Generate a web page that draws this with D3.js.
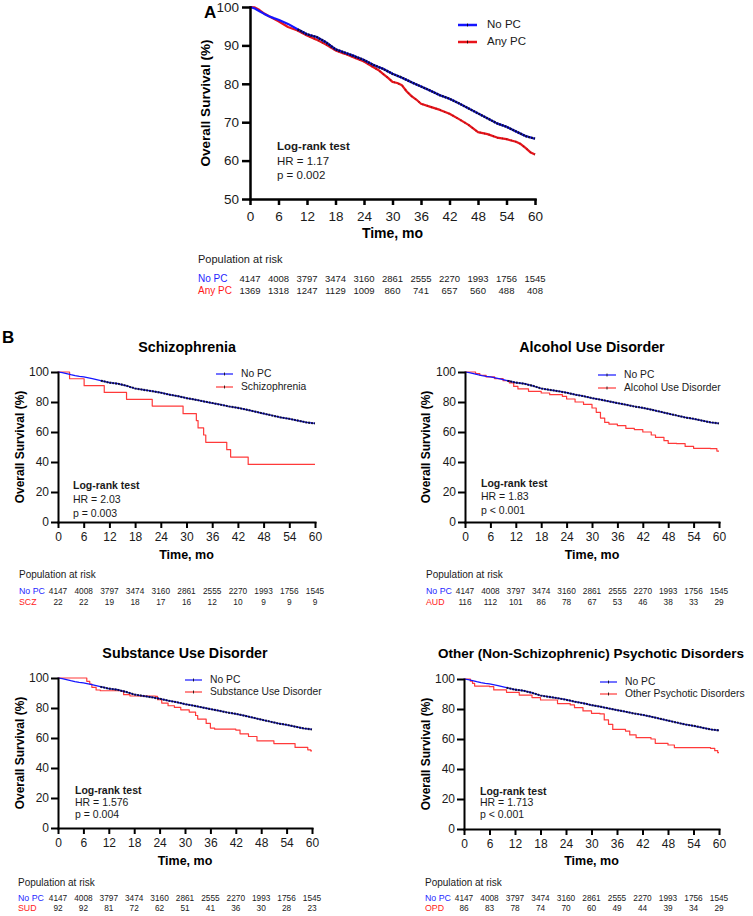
<!DOCTYPE html>
<html><head><meta charset="utf-8">
<script src="https://cdn.jsdelivr.net/npm/d3@7"></script>
<style>
body{margin:0;background:#fff}
svg{font-family:"Liberation Sans",Arial,Helvetica,sans-serif}
</style>
</head><body>
<svg id="c" width="753" height="916"></svg>
<script>
// ---------- DATA ----------
const months = [0, 6, 12, 18, 24, 30, 36, 42, 48, 54, 60];
const yTicksA = [50, 60, 70, 80, 90, 100];
const yTicksB = [0, 20, 40, 60, 80, 100];

// No PC (reference group) survival, %
const noPcTime = [0,1,2,3,4,5,6,8,10,12,14,16,18,20,22,24,26,28,30,32,34,36,38,40,42,44,46,48,50,52,54,56,58,60];
const noPcSurv = [100,99.6,98.9,98.2,97.6,97.1,96.7,95.6,94.2,92.9,92.2,90.8,89.0,88.1,87.2,86.2,84.9,83.9,82.6,81.6,80.4,79.3,78.2,77.0,76.1,74.9,73.6,72.3,71.0,69.7,68.8,67.6,66.4,65.7];

// Any PC
const anyPcTime = [0,1,2,3,4,6,8,10,12,14,16,18,20,22,24,26,27,28,29,30,31,32,33,34,35,36,38,40,42,44,46,48,50,52,54,56,57,58,59,60];
const anyPcSurv = [100,99.9,99.2,98.3,97.6,96.3,94.8,93.9,92.6,91.5,90.2,88.7,87.8,86.8,85.8,84.3,83.6,82.6,81.6,80.5,80.2,79.6,78.0,76.8,75.9,74.8,74.0,73.2,72.2,70.8,69.3,67.4,66.9,66.0,65.6,64.9,64.3,63.3,62.2,61.6];

// Schizophrenia (step)
const sczTime = [0,2.7,6.1,10.8,16,22,29.2,32.3,32.7,34,34.5,39.4,40.3,44.4,60];
const sczSurv = [100,95.5,90.9,86.4,81.8,77.3,72.2,67.6,62.7,58.0,53.1,48.2,43.3,38.4,38.4];

// Alcohol Use Disorder (step)
const audTime = [0,2.5,3.5,5,7,9,10.5,11.5,12.5,15,18,20,23,24,26,28,30,31,32,33,34,36,38,40,42,44,45,47,48,50,52,54,58,59.5,60];
const audSurv = [100,98.9,97.8,96.7,95.6,94.2,92.7,90.4,88.7,87.1,86.0,84.9,83.8,82.0,80.0,78.4,76.0,73.1,69.3,66.4,65.3,64.2,62.4,61.6,60.0,58.0,56.4,54.2,52.4,52.2,50.4,49.1,48.9,47.3,47.3];

// Substance Use Disorder (step)
const sudTime = [0,6.8,7.5,8,9,10,15,15.5,17,23,23.5,24.5,26,27.5,29,31,32.5,33,35,36,37,42,43,45,47,51,56,59,59.7,60];
const sudSurv = [100,97.8,96.0,93.8,92.0,91.5,91.1,88.9,88.0,87.8,85.5,83.3,81.5,80.4,78.8,77.3,75.0,72.6,69.7,66.6,65.9,65.3,62.8,61.0,58.1,56.3,53.7,52.1,51.4,51.4];

// Other Psychotic Disorders (step)
const opdTime = [0,1.5,2,2.5,6,7,10,13,16,18,22,25,26,28,30,32,33,34,35,38,39,40.5,44,45,48,49.5,58,59,59.7,60];
const opdSurv = [100,98.5,97.1,95.3,94.9,92.7,91.1,89.3,87.6,86.0,83.6,82.7,80.9,78.7,77.1,76.7,72.7,69.8,66.4,65.3,62.7,60.9,60.0,57.1,56.0,54.2,53.8,52.2,50.9,50.9];

// Population at risk
const riskNoPC  = [4147,4008,3797,3474,3160,2861,2555,2270,1993,1756,1545];
const riskAnyPC = [1369,1318,1247,1129,1009,860,741,657,560,488,408];
const riskSCZ   = [22,22,19,18,17,16,12,10,9,9,9];
const riskAUD   = [116,112,101,86,78,67,53,46,38,33,29];
const riskSUD   = [92,92,81,72,62,51,41,36,30,28,23];
const riskOPD   = [86,83,78,74,70,60,49,44,39,34,29];

// ---------- DRAW ----------
const svg = d3.select("#c");
const BLUE = "#1515ff", RED_A = "#e8141b", RED_B = "#ff3a3a";
const zip = (a, b) => a.map((t, i) => [t, b[i]]);

function drawPanel(p) {
  const g = svg.append("g");
  const x = d3.scaleLinear().domain([0, 60]).range([p.x0, p.x1]);
  const y = d3.scaleLinear().domain(p.yDom).range([p.yBot, p.yTop]);
  const lin = d3.line().x(d => x(d[0])).y(d => y(d[1]));
  const step = d3.line().x(d => x(d[0])).y(d => y(d[1])).curve(d3.curveStepAfter);

  const noPc = zip(noPcTime, noPcSurv);
  const grp = zip(p.gTime, p.gSurv);

  g.append("path").attr("d", p.stepGroup ? step(grp) : lin(grp))
    .attr("fill", "none").attr("stroke", p.red).attr("stroke-width", p.redW)
    .attr("stroke-linejoin", "round");
  g.append("path").attr("d", lin(noPc))
    .attr("fill", "none").attr("stroke", BLUE).attr("stroke-width", p.blueW)
    .attr("stroke-linejoin", "round");
  // dense censor marks darken line
  g.append("path").attr("d", lin(noPc.filter(d => d[0] >= 10)))
    .attr("fill", "none").attr("stroke", "#0a0a28").attr("stroke-width", p.blueW + p.darkExtra)
    .attr("stroke-dasharray", "2 0.9").attr("opacity", 0.9);
  if (p.darkRed) {
    g.append("path").attr("d", lin(grp.filter(d => d[0] >= 10)))
      .attr("fill", "none").attr("stroke", "#300").attr("stroke-width", p.redW)
      .attr("stroke-dasharray", "0.6 4").attr("opacity", 0.5);
  }

  const xa = g.append("g").attr("transform", `translate(0,${p.yBot})`)
    .call(d3.axisBottom(x).tickValues(months).tickSize(p.xTick).tickSizeOuter(0).tickPadding(p.xPad));
  const ya = g.append("g").attr("transform", `translate(${p.x0},0)`)
    .call(d3.axisLeft(y).tickValues(p.yTicks).tickSize(p.yTick).tickSizeOuter(0).tickPadding(p.yPad));
  [xa, ya].forEach(a => {
    a.attr("font-family", null).attr("font-size", null);
    a.select(".domain").attr("stroke", "#000").attr("stroke-width", p.axW).attr("stroke-linecap", "square");
    a.selectAll(".tick line").attr("stroke", "#000").attr("stroke-width", p.axW);
    a.selectAll(".tick text").attr("fill", "#1a1a1a").style("font-size", p.tickFs + "px");
  });

  g.append("text").attr("x", (p.x0 + p.x1) / 2).attr("y", p.xTitleY)
    .attr("text-anchor", "middle").attr("dominant-baseline", "middle")
    .style("font-weight", "bold").style("font-size", p.axTitleFs + "px").text("Time, mo");
  g.append("text").attr("transform", `translate(${p.yTitleX},${(p.yTop + p.yBot) / 2}) rotate(-90)`)
    .attr("text-anchor", "middle").attr("dominant-baseline", "middle")
    .style("font-weight", "bold").style("font-size", p.yTitleFs + "px").text("Overall Survival (%)");

  if (p.title) {
    g.append("text").attr("x", p.titleX).attr("y", p.titleY)
      .attr("text-anchor", "middle").attr("dominant-baseline", "middle")
      .style("font-weight", "bold").style("font-size", (p.titleFs || 14.3) + "px").text(p.title);
  }

  p.legend.forEach((lab, i) => {
    const ly = p.legY[i];
    g.append("line").attr("x1", p.legX0).attr("x2", p.legX1).attr("y1", ly).attr("y2", ly)
      .attr("stroke", i === 0 ? BLUE : p.red).attr("stroke-width", p.legW);
    g.append("line").attr("x1", (p.legX0 + p.legX1) / 2).attr("x2", (p.legX0 + p.legX1) / 2)
      .attr("y1", ly - 1.5).attr("y2", ly + 1.5).attr("stroke", "#000").attr("stroke-width", 0.8);
    g.append("text").attr("x", p.legTx).attr("y", ly).attr("dominant-baseline", "middle")
      .style("font-size", p.legFs + "px").attr("fill", "#1a1a1a").text(lab);
  });

  p.stats.forEach((s, i) => {
    g.append("text").attr("x", p.lrX).attr("y", p.lrY[i]).attr("dominant-baseline", "middle")
      .style("font-size", p.lrFs + "px").style("font-weight", i === 0 ? "bold" : "normal")
      .attr("fill", "#1a1a1a").text(s);
  });

  g.append("text").attr("x", p.popX).attr("y", p.popY).attr("dominant-baseline", "middle")
    .style("font-size", p.popFs + "px").attr("fill", "#1a1a1a").text("Population at risk");
  const rows = [[p.rowLabels[0], riskNoPC, "#1f1fff"], [p.rowLabels[1], p.risk, "#ff1a1a"]];
  rows.forEach((r, i) => {
    const ry = p.rowY[i];
    g.append("text").attr("x", p.popX).attr("y", ry).attr("dominant-baseline", "middle")
      .style("font-size", p.rowFs + "px").attr("fill", r[2]).text(r[0]);
    g.selectAll(null).data(r[1]).enter().append("text")
      .attr("x", (d, j) => x(months[j])).attr("y", ry).attr("text-anchor", "middle")
      .attr("dominant-baseline", "middle").style("font-size", p.numFs + "px").attr("fill", "#1a1a1a")
      .text(d => d);
  });
}

// Panel A
drawPanel({
  x0: 250, x1: 535, yTop: 7, yBot: 199, yDom: [50, 100], yTicks: yTicksA,
  gTime: anyPcTime, gSurv: anyPcSurv, stepGroup: false, red: RED_A, redW: 2.2, blueW: 2.2, darkExtra: 0.2, darkRed: true,
  xTick: 6, xPad: 6, yTick: 8, yPad: 3, axW: 2.5, tickFs: 13.5,
  xTitleY: 234, axTitleFs: 14, yTitleX: 206, yTitleFs: 13.5,
  legend: ["No PC", "Any PC"], legX0: 458, legX1: 477, legY: [25, 42], legTx: 487, legFs: 11.5, legW: 2.5,
  stats: ["Log-rank test", "HR = 1.17", "p = 0.002"], lrX: 277, lrY: [147, 162, 176], lrFs: 11.5,
  popX: 198, popY: 260, popFs: 11, rowLabels: ["No PC", "Any PC"], risk: riskAnyPC, rowY: [279, 291], rowFs: 10, numFs: 9.5
});

const common = {
  yDom: [0, 100], yTicks: yTicksB, stepGroup: true, red: RED_B, redW: 1.2, blueW: 1.2, darkExtra: 0.9, darkRed: false,
  xTick: 6, xPad: 4, yTick: 7, yPad: 2, axW: 2, tickFs: 12, axTitleFs: 12.5, yTitleFs: 12,
  legFs: 10.3, legW: 1.2, lrFs: 10.5, popFs: 10, rowFs: 8.8, numFs: 8.3
};

drawPanel(Object.assign({}, common, {
  x0: 58, x1: 315, yTop: 372, yBot: 522, gTime: sczTime, gSurv: sczSurv,
  title: "Schizophrenia", titleX: 187, titleY: 348,
  xTitleY: 556, yTitleX: 21,
  legend: ["No PC", "Schizophrenia"], legX0: 216, legX1: 233, legY: [374, 387], legTx: 241,
  stats: ["Log-rank test", "HR = 2.03", "p = 0.003"], lrX: 73, lrY: [486, 500, 514],
  popX: 19, popY: 575, rowLabels: ["No PC", "SCZ"], risk: riskSCZ, rowY: [592, 603]
}));

drawPanel(Object.assign({}, common, {
  x0: 465, x1: 719, yTop: 372, yBot: 522, gTime: audTime, gSurv: audSurv,
  title: "Alcohol Use Disorder", titleX: 592, titleY: 348,
  xTitleY: 556, yTitleX: 427,
  legend: ["No PC", "Alcohol Use Disorder"], legX0: 598, legX1: 616, legY: [375, 388], legTx: 624,
  stats: ["Log-rank test", "HR = 1.83", "p < 0.001"], lrX: 481, lrY: [484, 497, 511],
  popX: 426, popY: 575, rowLabels: ["No PC", "AUD"], risk: riskAUD, rowY: [592, 603]
}));

drawPanel(Object.assign({}, common, {
  x0: 58, x1: 312, yTop: 678, yBot: 828, gTime: sudTime, gSurv: sudSurv,
  title: "Substance Use Disorder", titleX: 185, titleY: 654,
  xTitleY: 862, yTitleX: 21,
  legend: ["No PC", "Substance Use Disorder"], legX0: 185, legX1: 202, legY: [680, 692], legTx: 210,
  stats: ["Log-rank test", "HR = 1.576", "p = 0.004"], lrX: 75, lrY: [791, 803, 815],
  popX: 18, popY: 883, rowLabels: ["No PC", "SUD"], risk: riskSUD, rowY: [899, 909]
}));

drawPanel(Object.assign({}, common, {
  x0: 464, x1: 719, yTop: 679, yBot: 829, gTime: opdTime, gSurv: opdSurv,
  title: "Other (Non-Schizophrenic) Psychotic Disorders", titleX: 591, titleY: 654, titleFs: 13.5,
  xTitleY: 862, yTitleX: 427,
  legend: ["No PC", "Other Psychotic Disorders"], legX0: 600, legX1: 617, legY: [682, 694], legTx: 625,
  stats: ["Log-rank test", "HR = 1.713", "p < 0.001"], lrX: 480, lrY: [792, 803, 815],
  popX: 425, popY: 883, rowLabels: ["No PC", "OPD"], risk: riskOPD, rowY: [899, 909]
}));

// Panel letters
svg.append("text").attr("x", 204).attr("y", 14).attr("dominant-baseline", "middle")
  .style("font-weight", "bold").style("font-size", "17px").text("A");
svg.append("text").attr("x", 2).attr("y", 339).attr("dominant-baseline", "middle")
  .style("font-weight", "bold").style("font-size", "17px").text("B");
</script>
</body></html>
